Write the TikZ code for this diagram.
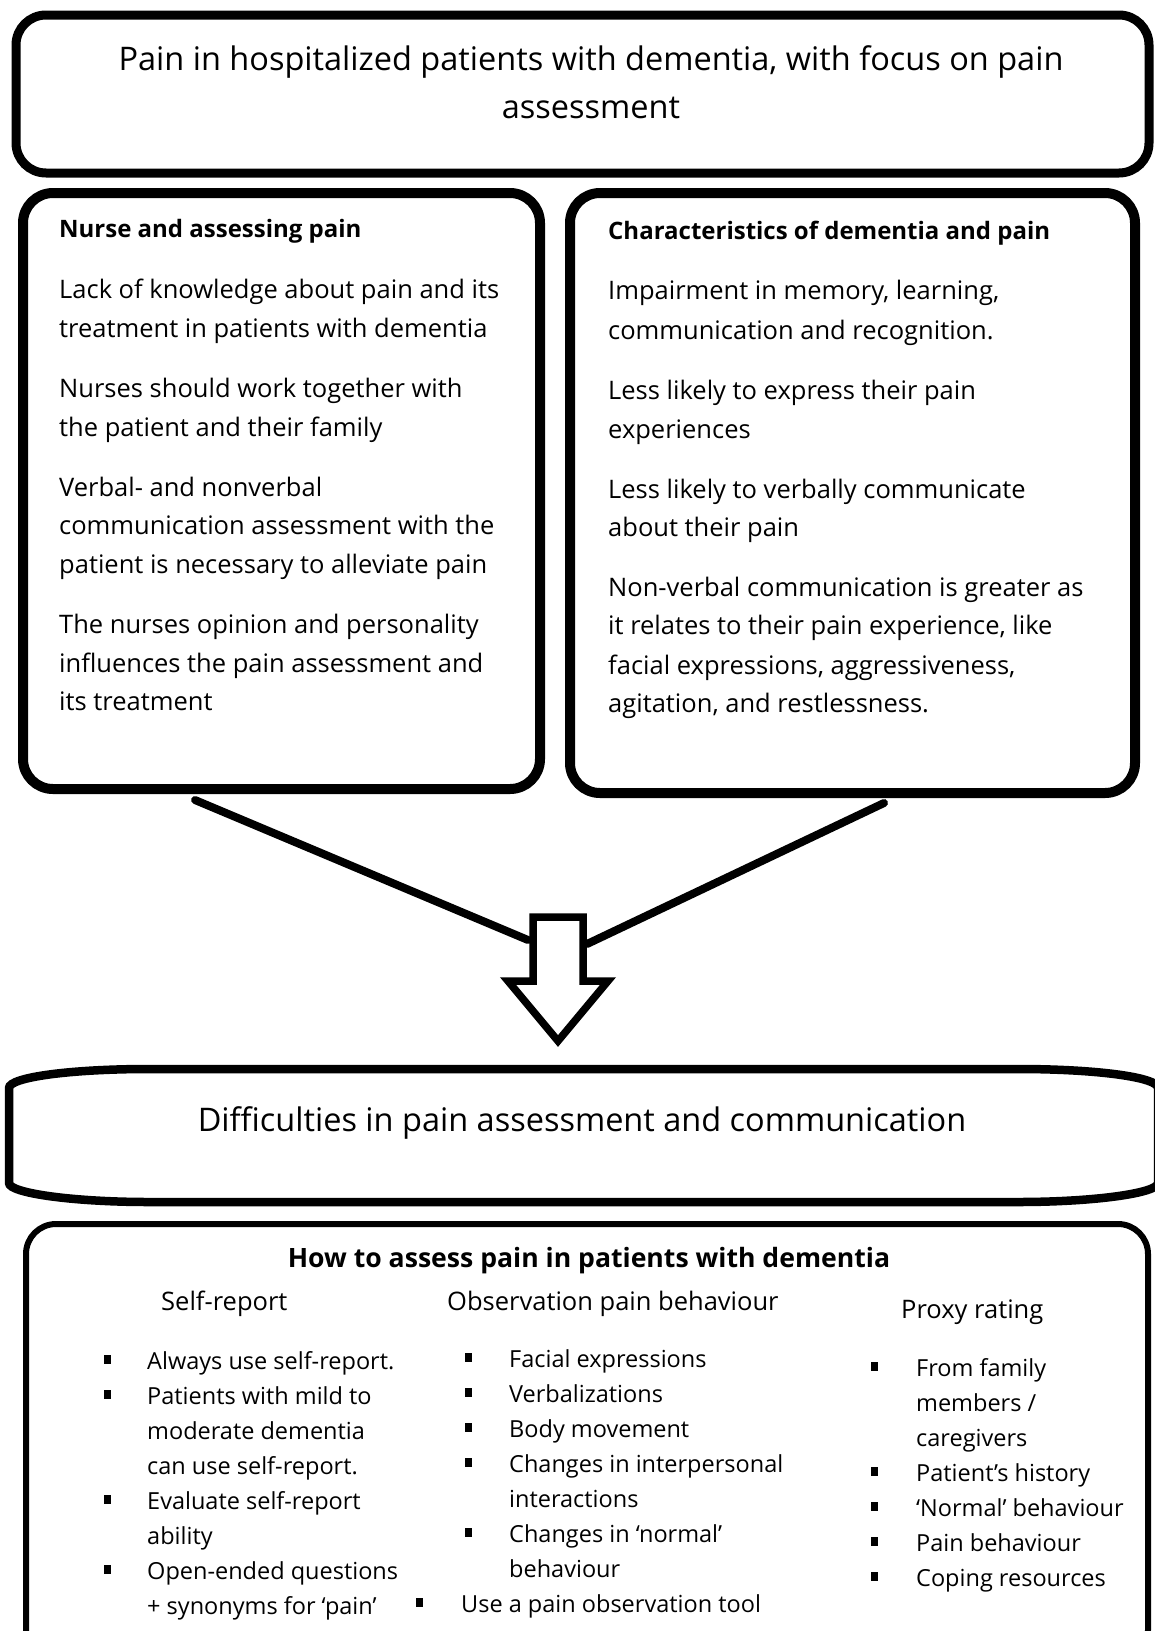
\documentclass[tikz,border=0pt]{standalone}
\usepackage{fontspec}
\setmainfont{Open Sans}
\begin{document}
\begin{tikzpicture}[x=1pt,y=-1pt,
  frame/.style={draw, line width=9pt, rounded corners=30pt, inner sep=0pt, outer sep=0pt},
  thinframe/.style={draw, line width=6pt, rounded corners=30pt, inner sep=0pt, outer sep=0pt},
  conn/.style={line width=8pt, line cap=round},
  blockarrow/.style={draw, line width=7.5pt, line join=miter},
  ttl/.style={font=\fontsize{32.5}{38}\selectfont, anchor=base, inner sep=0pt},
  hd/.style={font=\fontsize{24}{30}\selectfont\bfseries, anchor=base west, inner sep=0pt},
  bd/.style={font=\fontsize{25.5}{30}\selectfont, anchor=base west, inner sep=0pt},
  sm/.style={font=\fontsize{23.5}{28}\selectfont, anchor=base west, inner sep=0pt},
  bul/.style={fill, minimum width=7pt, minimum height=9pt, inner sep=0pt}]
\useasboundingbox (0,0) rectangle (1155,1631);
\clip (0,0) rectangle (1155,1631);
\fill[white] (0,0) rectangle (1155,1631);

% boxes
\node[frame, minimum width=1133pt, minimum height=158pt] (top) at (582.5,94) {};
\node[frame, line width=10pt, minimum width=517pt, minimum height=596pt] (left) at (281.5,491) {};
\node[frame, line width=10pt, minimum width=565pt, minimum height=600pt] (right) at (852.5,493) {};
\node[thinframe, minimum width=1122pt, minimum height=436pt] (bottom) at (587,1442) {};

% title
\node[ttl] (t1) at (591,70) {Pain in hospitalized patients with dementia, with focus on pain};
\node[ttl] (t2) at (591,118) {assessment};

% left box
\node[hd] (lh) at (59,237) {Nurse and assessing pain};
\foreach \yy/\tx [count=\i] in {
  298/{Lack of knowledge about pain and its},
  337/{treatment in patients with dementia},
  397/{Nurses should work together with},
  436/{the patient and their family},
  496/{Verbal- and nonverbal},
  534/{communication assessment with the},
  573/{patient is necessary to alleviate pain},
  633/{The nurses opinion and personality},
  672/{influences the pain assessment and},
  710/{its treatment}}
  \node[bd] (L\i) at (59,\yy) {\tx};

% right box
\node[hd] (rh) at (608,239) {Characteristics of dementia and pain};
\foreach \yy/\tx [count=\i] in {
  299/{Impairment in memory, learning,},
  339/{communication and recognition.},
  399/{Less likely to express their pain},
  438/{experiences},
  498/{Less likely to verbally communicate},
  536/{about their pain},
  596/{Non-verbal communication is greater as},
  634/{it relates to their pain experience, like},
  674/{facial expressions, aggressiveness,},
  712/{agitation, and restlessness.}}
  \node[bd] (R\i) at (608,\yy) {\tx};

% connectors
\coordinate (c1) at (195,800);
\coordinate (c2) at (528,940);
\coordinate (c3) at (884,803);
\coordinate (c4) at (587,944);
\draw[conn] (c1) -- (c2);
\draw[conn] (c3) -- (c4);

% block arrow
\coordinate (arr) at (558,917);
\draw[blockarrow, fill=white] (533,917) -- (583,917) -- (583,981) -- (608,981) -- (558,1041) -- (508,981) -- (533,981) -- cycle;

% difficulties box
\draw[line width=8.5pt] (149,1069) -- (1018,1069) .. controls (1095,1069) and (1158,1077) .. (1158,1088) -- (1158,1183) .. controls (1158,1193) and (1095,1202) .. (1018,1202) -- (149,1202) .. controls (72,1202) and (9,1193) .. (9,1183) -- (9,1088) .. controls (9,1077) and (72,1069) .. (149,1069) -- cycle;
\node[font=\fontsize{32.5}{38}\selectfont, anchor=base, inner sep=0pt] (diff) at (582,1131) {Difficulties in pain assessment and communication};

% bottom box
\node[font=\fontsize{26.6}{30}\selectfont\bfseries, anchor=base, inner sep=0pt] (bh) at (589,1267) {How to assess pain in patients with dementia};
\node[bd] (h1) at (161,1310) {Self-report};
\node[bd] (h2) at (447,1310) {Observation pain behaviour};
\node[bd] (h3) at (901,1318) {Proxy rating};

\foreach \yy/\tx [count=\i] in {
  1369/{Always use self-report.},
  1404/{Patients with mild to},
  1439/{moderate dementia},
  1474/{can use self-report.},
  1509/{Evaluate self-report},
  1544/{ability},
  1579/{Open-ended questions},
  1614/{+ synonyms for ‘pain’}}
  \node[sm] (A\i) at (147,\yy) {\tx};
\foreach \yy [count=\i] in {1369,1404,1509,1579}
  \node[bul] (ba\i) at (107,\yy-10) {};

\foreach \yy/\tx [count=\i] in {
  1367/{Facial expressions},
  1402/{Verbalizations},
  1437/{Body movement},
  1472/{Changes in interpersonal},
  1507/{interactions},
  1542/{Changes in ‘normal’},
  1577/{behaviour}}
  \node[sm] (B\i) at (509,\yy) {\tx};
\foreach \yy [count=\i] in {1367,1402,1437,1472,1542}
  \node[bul] (bb\i) at (468,\yy-10) {};
\node[sm] (B8) at (461,1612) {Use a pain observation tool};
\node[bul] (bb6) at (419,1602) {};

\foreach \yy/\tx [count=\i] in {
  1376/{From family},
  1411/{members /},
  1446/{caregivers},
  1481/{Patient’s history},
  1516/{‘Normal’ behaviour},
  1551/{Pain behaviour},
  1586/{Coping resources}}
  \node[sm] (C\i) at (916,\yy) {\tx};
\foreach \yy [count=\i] in {1376,1481,1516,1551,1586}
  \node[bul] (bc\i) at (874,\yy-10) {};
\end{tikzpicture}
\end{document}
